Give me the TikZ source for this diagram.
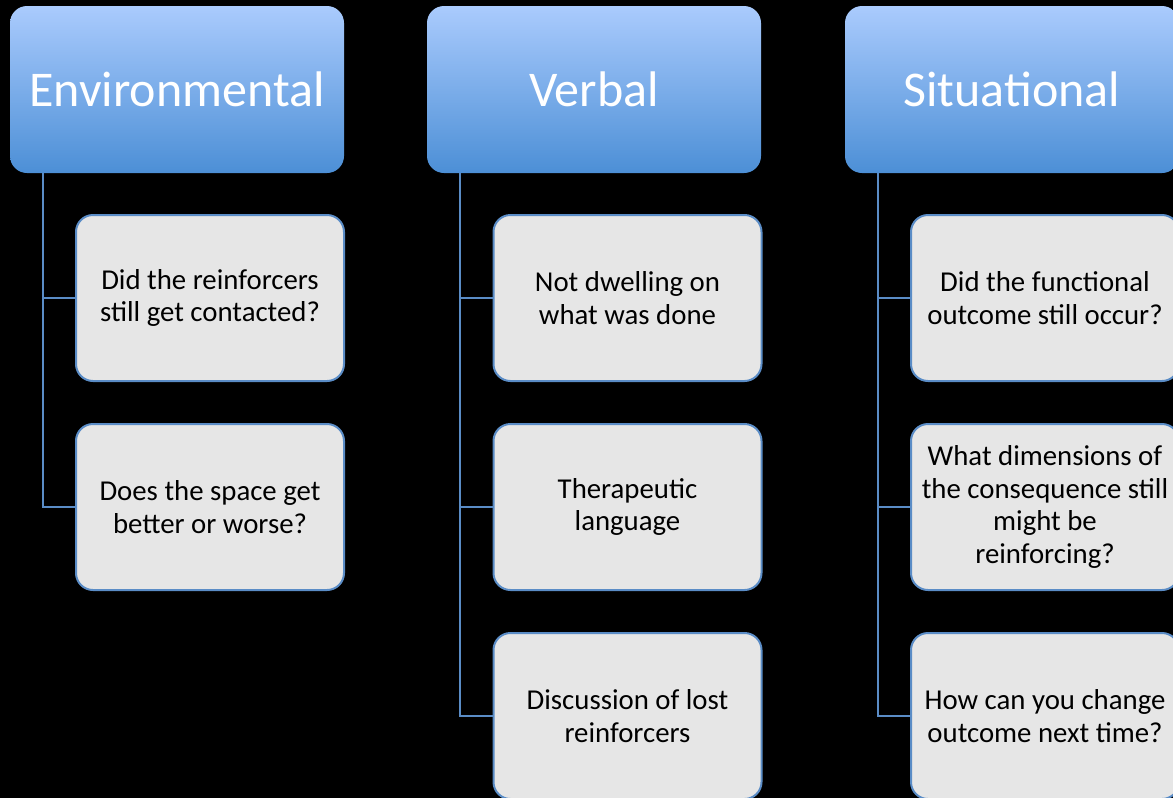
\documentclass[tikz,border=0pt]{standalone}
\usepackage{fontspec}
\setmainfont{Carlito}
\usepackage{tikz}
\usetikzlibrary{positioning}
\definecolor{headtop}{HTML}{AACBFD}
\definecolor{headbot}{HTML}{4C8FD6}
\definecolor{boxfill}{HTML}{E6E6E6}
\definecolor{edge}{HTML}{5A8CC6}

\begin{document}
\begin{tikzpicture}[x=0.5pt,y=-0.5pt,
  head/.style={rounded corners=8.5pt,top color=headtop,bottom color=headbot,draw=none,
    minimum width=167pt,minimum height=83.5pt,text=white,font=\fontsize{25}{30}\selectfont},
  item/.style={rounded corners=8.5pt,fill=boxfill,draw=edge,line width=1pt,
    minimum width=134pt,minimum height=83pt,align=center,font=\fontsize{14.4}{16.3}\selectfont},
  link/.style={draw=edge,line width=1pt}]
  \useasboundingbox (0,0) rectangle (1173,798);
  \fill[black] (0,0) rectangle (1173,798);
  \clip (0,0) rectangle (1173,798);
  \node[head] (env) at (177,89.5) {Environmental};
  \node[head] (verb) at (594,89.5) {Verbal};
  \node[head] (sit) at (1012,89.5) {Situational};
  \node[item] (env1) at (210,298) {Did the reinforcers\\still get contacted?};
  \node[item] (env2) at (210,507) {Does the space get\\better or worse?};
  \node[item] (verb1) at (627.5,298) {Not dwelling on\\what was done};
  \node[item] (verb2) at (627.5,507) {Therapeutic\\language};
  \node[item] (verb3) at (627.5,716) {Discussion of lost\\reinforcers};
  \node[item] (sit1) at (1045,298) {Did the functional\\outcome still occur?};
  \node[item] (sit2) at (1045,507) {What dimensions of\\the consequence still\\might be\\reinforcing?};
  \node[item] (sit3) at (1045,716) {How can you change\\outcome next time?};
  \draw[link]([xshift=16.5pt]env.south west)|-(env1.west);
  \draw[link]([xshift=16.5pt]env.south west)|-(env2.west);
  \draw[link]([xshift=16.5pt]verb.south west)|-(verb1.west);
  \draw[link]([xshift=16.5pt]verb.south west)|-(verb2.west);
  \draw[link]([xshift=16.5pt]verb.south west)|-(verb3.west);
  \draw[link]([xshift=16.5pt]sit.south west)|-(sit1.west);
  \draw[link]([xshift=16.5pt]sit.south west)|-(sit2.west);
  \draw[link]([xshift=16.5pt]sit.south west)|-(sit3.west);
\end{tikzpicture}
\end{document}
